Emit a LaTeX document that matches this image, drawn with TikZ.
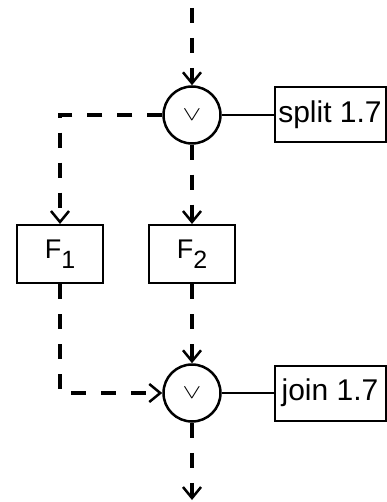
\documentclass[tikz,border=0pt]{standalone}
\usepackage{fontspec}
\setmainfont{Liberation Sans}
\usetikzlibrary{arrows.meta}
\tikzset{
  gate/.style={draw,circle,line width=2.5pt,minimum size=57pt,inner sep=0pt},
  funcbox/.style={draw,rectangle,line width=2pt,minimum width=86pt,minimum height=58pt,inner sep=0pt,font=\fontsize{27}{27}\selectfont},
  tagbox/.style={draw,rectangle,line width=2pt,minimum width=111pt,minimum height=55pt,inner sep=0pt,font=\fontsize{30}{30}\selectfont},
  flow/.style={line width=3.2pt,dash pattern=on 15pt off 15pt,-{Straight Barb[length=11pt,width=18pt,line width=2.5pt]}},
  link/.style={line width=1.8pt}
}
\newcommand{\orsign}{\scalebox{2.8}[2]{$\vee$}}
\begin{document}
\begin{tikzpicture}[x=1pt,y=-1pt]
  \useasboundingbox (0,0) rectangle (387,502);

  % Marking gates split and join
  \node[gate] (split) at (192,115) {\orsign};
  \node[gate] (join) at (192,393) {\orsign};

  % Marking functions F1 and F2
  \node[funcbox] (fone) at (60,254) {F\raisebox{-10pt}{\fontsize{25}{25}\selectfont 1}};
  \node[funcbox] (ftwo) at (192,254) {F\raisebox{-10pt}{\fontsize{25}{25}\selectfont 2}};

  % Marking tags
  \node[tagbox] (splittag) at (330,115) {split 1.7};
  \node[tagbox] (jointag) at (330,393) {join 1.7};

  % Marking free ends and bends
  \coordinate (in) at (192,0);
  \coordinate (out) at (192,500);
  \coordinate (bendsplit) at (60,115);
  \coordinate (bendjoin) at (60,393);

  % Drawing flow
  \draw[flow,dash phase=22pt] (in) -- (split);
  \draw[flow] (split) -- (bendsplit) -- (fone);
  \draw[flow] (split) -- (ftwo);
  \draw[flow] (fone) -- (bendjoin) -- (join);
  \draw[flow] (ftwo) -- (join);
  \draw[flow] (join) -- (out);

  % Drawing links to tags
  \draw[link] (split) -- (splittag);
  \draw[link] (join) -- (jointag);
\end{tikzpicture}
\end{document}
